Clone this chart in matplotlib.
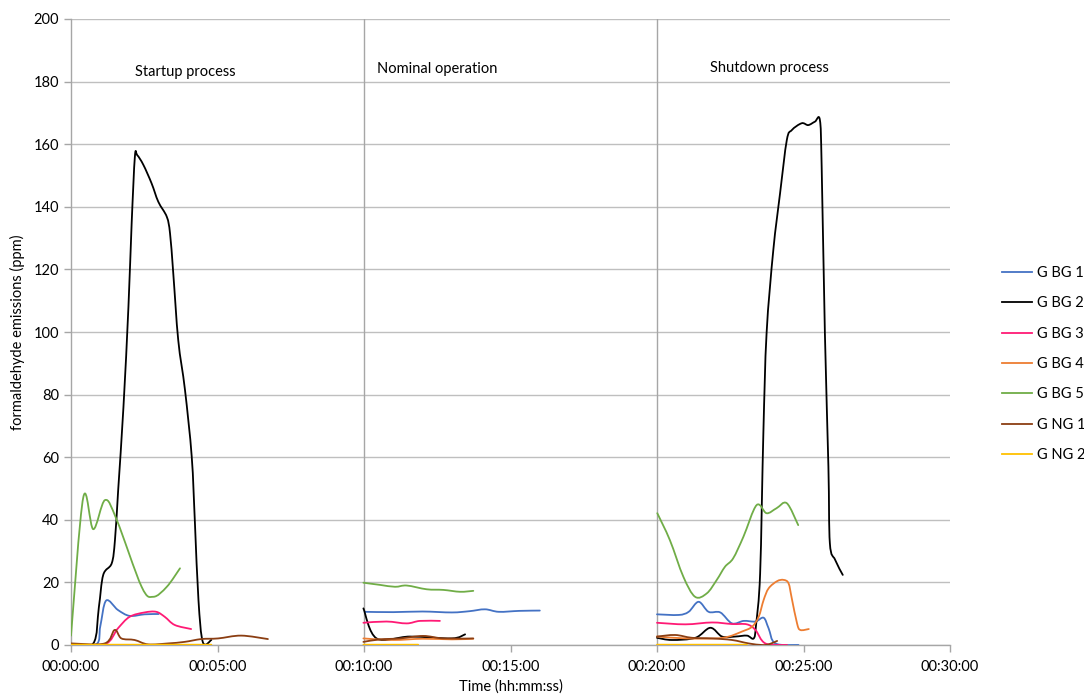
import matplotlib
matplotlib.use("Agg")
import matplotlib.pyplot as plt
from matplotlib.lines import Line2D
from matplotlib.patches import PathPatch
from matplotlib.path import Path
from matplotlib.ticker import FuncFormatter, MultipleLocator

plt.rcParams.update({"font.family": ["Lato", "DejaVu Sans"], "font.size": 10.5})

# time in minutes, values in ppm; None splits the phases
bg1_t = [0, 0.86, 1.0, 1.2, 1.6, 2.0, 2.51, 2.99, None,
         10.03, 11.0, 12.0, 13.0, 13.6, 14.13, 14.6, 15.3, 16.0, None,
         20.0, 20.74, 21.08, 21.42, 21.76, 22.16, 22.56, 22.96, 23.36, 23.64, 23.81, 24.04, 24.83]
bg1_v = [0, 0.2, 6.0, 14.2, 11.2, 9.3, 9.8, 9.9, None,
         10.6, 10.5, 10.7, 10.4, 10.8, 11.4, 10.6, 10.9, 11.0, None,
         9.8, 9.6, 10.6, 13.8, 10.6, 10.4, 6.9, 7.7, 7.5, 8.7, 5.3, 0.5, 0.0]

bg2_t = [0, 0.76, 0.95, 1.1, 1.39, 1.5, 1.61, 1.79, 1.96, 2.07, 2.18, 2.26, 2.47, 2.75,
         2.98, 3.27, 3.38, 3.49, 3.66, 3.89, 4.12, 4.23, 4.35, 4.5, 4.79, None,
         9.98, 10.43, 11.57, 12.99, 13.45, None,
         20.0, 20.51, 21.31, 21.82, 22.22, 22.67, 23.07, 23.3, 23.38, 23.52, 23.63, 23.74,
         23.97, 24.2, 24.43, 24.6, 24.94, 25.16, 25.39, 25.56, 25.62, 25.73, 25.85, 25.9,
         26.08, 26.34]
bg2_v = [0.3, 0.5, 12.0, 22.4, 26.1, 33.5, 49.5, 76.0, 108.0, 134.7, 156.0, 156.5, 153.4, 147.5,
         141.6, 136.8, 131.5, 118.8, 97.4, 81.5, 60.2, 38.9, 14.4, 0.9, 1.6, None,
         11.7, 2.1, 2.7, 2.1, 3.4, None,
         2.3, 1.6, 2.3, 5.5, 2.7, 2.7, 3.0, 2.1, 6.4, 22.9, 67.6, 99.6,
         126.2, 144.3, 161.3, 164.5, 166.7, 166.1, 167.2, 167.7, 152.8, 99.6, 57.0, 32.5,
         27.2, 22.4]

bg3_t = [0, 1.15, 1.6, 2.0, 2.51, 2.91, 3.2, 3.54, 4.1, None,
         9.98, 10.77, 11.46, 11.91, 12.59, None,
         20.0, 20.97, 21.88, 22.56, 23.07, 23.36, 23.7, 24.44]
bg3_v = [0, 0.2, 5.3, 9.0, 10.4, 10.6, 9.0, 6.4, 5.1, None,
         7.1, 7.5, 6.9, 7.7, 7.7, None,
         7.1, 6.6, 7.2, 6.7, 6.6, 4.8, 0.5, 0.0]

bg4_t = [9.98, 11.0, 12.0, 13.0, 13.73, None,
         20.0, 20.97, 21.99, 22.45, 22.9, 23.24, 23.47, 23.64, 23.81, 24.1, 24.32, 24.49,
         24.6, 24.78, 24.89, 25.18]
bg4_v = [2.1, 1.6, 2.0, 1.8, 2.0, None,
         2.7, 2.1, 2.1, 2.7, 4.3, 5.8, 9.0, 14.4, 18.1, 20.4, 20.8, 19.7,
         14.9, 6.9, 4.8, 5.1]

bg5_t = [0, 0.42, 0.76, 1.16, 1.56, 2.41, 2.81, 3.27, 3.72, None,
         9.98, 10.55, 11.06, 11.46, 12.14, 12.71, 13.28, 13.73, None,
         20.01, 20.44, 20.9, 21.3, 21.7, 22.04, 22.32, 22.6, 22.95, 23.4, 23.74, 24.08,
         24.43, 24.82]
bg5_v = [3.0, 47.2, 37.0, 46.3, 40.0, 18.6, 15.4, 18.6, 24.5, None,
         19.9, 19.2, 18.6, 19.0, 17.8, 17.6, 17.0, 17.3, None,
         42.1, 33.5, 21.8, 15.4, 16.5, 20.8, 25.0, 27.7, 34.6, 44.7, 42.1, 43.7,
         45.3, 38.3]

ng1_t = [0, 1.15, 1.49, 1.72, 2.17, 2.63, 3.31, 3.88, 4.45, 5.02, 5.81, 6.72, None,
         9.98, 10.55, 11.23, 12.02, 12.71, 13.73, None,
         20.0, 20.62, 21.19, 21.88, 22.56, 23.13, 23.58, 23.81, 24.1]
ng1_v = [0.5, 0.5, 4.8, 2.1, 1.6, 0.2, 0.5, 1.0, 1.9, 2.1, 3.0, 1.9, None,
         1.0, 1.8, 2.1, 2.9, 2.1, 2.1, None,
         2.7, 3.2, 2.3, 2.1, 1.6, 0.5, 0.0, 0.2, 1.3]

ng2_t = [0, 4.79, None, 9.98, 11.85, None, 20.0, 23.07]
ng2_v = [0.1, 0.1, None, 0.1, 0.1, None, 0.1, 0.1]

series = [
    ("G BG 1", bg1_t, bg1_v, "#4472C4"),
    ("G BG 2", bg2_t, bg2_v, "#000000"),
    ("G BG 3", bg3_t, bg3_v, "#FF1A75"),
    ("G BG 4", bg4_t, bg4_v, "#ED7D31"),
    ("G BG 5", bg5_t, bg5_v, "#70AD47"),
    ("G NG 1", ng1_t, ng1_v, "#8B3E12"),
    ("G NG 2", ng2_t, ng2_v, "#FFC000"),
]

phases = ["Startup process", "Nominal operation", "Shutdown process"]
phase_x = [2.18, 10.44, 21.8]
phase_y = [183, 184, 184.5]
phase_bounds = [10, 20]


def hms(x, pos):
    s = int(round(x * 60))
    return f"{s // 3600:02d}:{(s % 3600) // 60:02d}:{s % 60:02d}"


def pieces(t, v):
    out, cur = [], []
    for a, b in zip(t, v):
        if a is None:
            out.append(cur)
            cur = []
        else:
            cur.append((a, b))
    out.append(cur)
    return [p for p in out if len(p) > 1]


def smooth_path(pts):
    # Excel-style smoothed line: cubic Bezier through the points
    verts, codes = [pts[0]], [Path.MOVETO]
    n = len(pts)
    for i in range(n - 1):
        p0 = pts[max(i - 1, 0)]
        p1, p2 = pts[i], pts[i + 1]
        p3 = pts[min(i + 2, n - 1)]
        c1 = (p1[0] + (p2[0] - p0[0]) / 6, p1[1] + (p2[1] - p0[1]) / 6)
        c2 = (p2[0] - (p3[0] - p1[0]) / 6, p2[1] - (p3[1] - p1[1]) / 6)
        verts += [c1, c2, p2]
        codes += [Path.CURVE4] * 3
    return Path(verts, codes)


fig = plt.figure(figsize=(10.84, 6.99), dpi=100)
ax = fig.add_axes([71 / 1084, 1 - 645 / 699, 879 / 1084, 626 / 699])

handles = []
for name, t, v, c in series:
    for seg in pieces(t, v):
        ax.add_patch(PathPatch(smooth_path(seg), fill=False, edgecolor=c, lw=1.3,
                               zorder=3, joinstyle="round", capstyle="round"))
    handles.append(Line2D([], [], color=c, lw=1.3, label=name))

# separators between the operating phases
for b in phase_bounds:
    ax.axvline(b, color="#A6A6A6", lw=1.0, zorder=1)

for txt, x, y in zip(phases, phase_x, phase_y):
    ax.text(x, y, txt, fontsize=10.5, ha="left", va="center")

ax.set_xlim(0, 30)
ax.set_ylim(0, 200)
ax.xaxis.set_major_locator(MultipleLocator(5))
ax.yaxis.set_major_locator(MultipleLocator(20))
ax.xaxis.set_major_formatter(FuncFormatter(hms))
ax.grid(axis="y", color="#BFBFBF", lw=1.0, zorder=0)
ax.set_axisbelow(True)
for s in ("top", "right"):
    ax.spines[s].set_visible(False)
for s in ("left", "bottom"):
    ax.spines[s].set_color("#A6A6A6")
    ax.spines[s].set_linewidth(1.0)
ax.tick_params(axis="both", colors="#A6A6A6", labelcolor="black", length=5, width=1.0)
ax.tick_params(axis="x", pad=6)
ax.set_xlabel("Time (hh:mm:ss)", labelpad=4)
ax.set_ylabel("formaldehyde emissions (ppm)", labelpad=6)

fig.legend(handles=handles, loc="center left", bbox_to_anchor=(1002 / 1084, 1 - 364 / 699),
           frameon=False, borderpad=0, borderaxespad=0, handlelength=2.05,
           handletextpad=0.35, labelspacing=1.12, fontsize=10.5)

fig.savefig("out.png", dpi=100)
